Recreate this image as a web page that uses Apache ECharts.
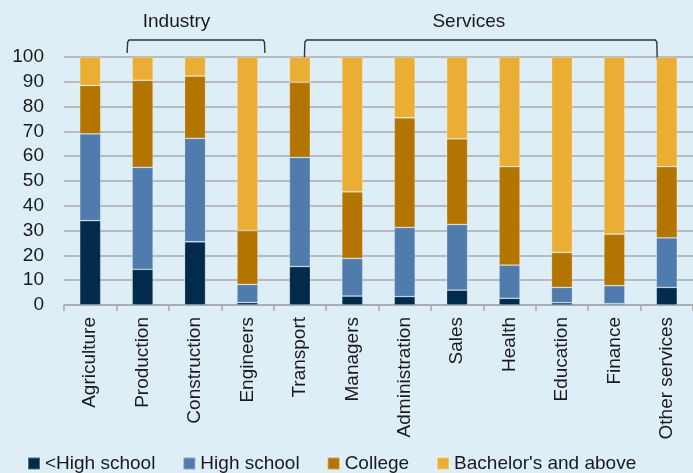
<!DOCTYPE html>
<html><head><meta charset="utf-8">
<script src="https://cdn.jsdelivr.net/npm/echarts@6/dist/echarts.min.js"></script>
<style>html,body{margin:0;padding:0;background:#DEEEF7;}#c{width:693px;height:473px;}</style>
</head><body><div id="c"></div>
<script>
const categories = ['Agriculture','Production','Construction','Engineers','Transport','Managers','Administration','Sales','Health','Education','Finance','Other services'];
const seriesNames = ['<High school','High school','College',"Bachelor's and above"];
const lessHS     = [34, 14.4, 25.5, 1, 15.5, 3.6, 3.4, 6, 2.7, 0.9, 0.5, 7.1];
const highSchool = [35, 41.1, 41.7, 7.3, 44, 15.2, 27.9, 26.5, 13.4, 6.2, 7.3, 20];
const college    = [19.5, 35.1, 25.1, 21.7, 30.3, 26.8, 44.2, 34.5, 39.7, 14.1, 20.8, 28.7];
const bachelor   = [11.5, 9.4, 7.7, 70, 10.2, 54.4, 24.5, 33, 44.2, 78.8, 71.4, 44.2];
const yTicks = [0,10,20,30,40,50,60,70,80,90,100];
const groupNames = ['Industry','Services'];

const colors = ['#022A4B','#4F7BAD','#B37400','#EBAE35'];
const font = "'Liberation Sans', Arial, sans-serif";
const chart = echarts.init(document.getElementById('c'), null, {renderer:'canvas'});
const values = [lessHS, highSchool, college, bachelor];
chart.setOption({
  backgroundColor: '#DEEEF7',
  animation: false,
  textStyle: {fontFamily: font},
  grid: {left: 64, top: 57, width: 635, height: 248, containLabel: false},
  legend: {
    left: 22, top: 449, itemWidth: 12, itemHeight: 12, itemGap: 27, icon: 'rect',
    textStyle: {fontSize: 19, color: '#1a1a1a', fontFamily: font},
    data: seriesNames
  },
  xAxis: {
    type: 'category', data: categories, boundaryGap: true,
    axisLine: {lineStyle: {color: '#A8A8A8', width: 1.5}},
    axisTick: {show: true, length: 6, lineStyle: {color: '#A8A8A8', width: 1.5}},
    axisLabel: {rotate: 90, margin: 12, fontSize: 19, color: '#1a1a1a', fontFamily: font, interval: 0}
  },
  yAxis: {
    type: 'value', min: yTicks[0], max: yTicks[yTicks.length-1], interval: 10,
    axisLine: {show: false}, axisTick: {show: false},
    splitLine: {lineStyle: {color: '#AAAAAA', width: 1.5}},
    axisLabel: {margin: 20, fontSize: 19, color: '#1a1a1a', fontFamily: font}
  },
  series: seriesNames.map((n, i) => ({
    name: n, type: 'bar', stack: 'total', data: values[i], barWidth: 21,
    itemStyle: {color: colors[i], borderColor: 'rgba(255,255,255,0.3)', borderWidth: 0.8}
  }))
});

const cx = i => chart.convertToPixel({xAxisIndex: 0}, categories[i]);
const lineStyle = {stroke: '#2E353B', lineWidth: 1.4, fill: null};
const iL = cx(1) - 15.5, iR = cx(3) + 17.5;
const sL = cx(4) + 4.5, sR = cx(11) - 9.5;
chart.setOption({
  graphic: [
    {type: 'polyline', shape: {points: [[iL,53],[iL+0.5,42],[iL+2,40],[iR-2,40],[iR-0.5,42],[iR,53]]}, style: lineStyle},
    {type: 'polyline', shape: {points: [[sL,59],[sL+0.5,42],[sL+2,40],[sR-2,40],[sR-0.5,42],[sR,60]]}, style: lineStyle},
    {type: 'text', x: (iL+iR)/2 - 19.5, y: 22, style: {text: groupNames[0], font: '19px ' + font, fill: '#1a1a1a', textAlign: 'center', textVerticalAlign: 'middle'}},
    {type: 'text', x: (sL+sR)/2 - 12, y: 22, style: {text: groupNames[1], font: '19px ' + font, fill: '#1a1a1a', textAlign: 'center', textVerticalAlign: 'middle'}}
  ]
});
</script></body></html>
